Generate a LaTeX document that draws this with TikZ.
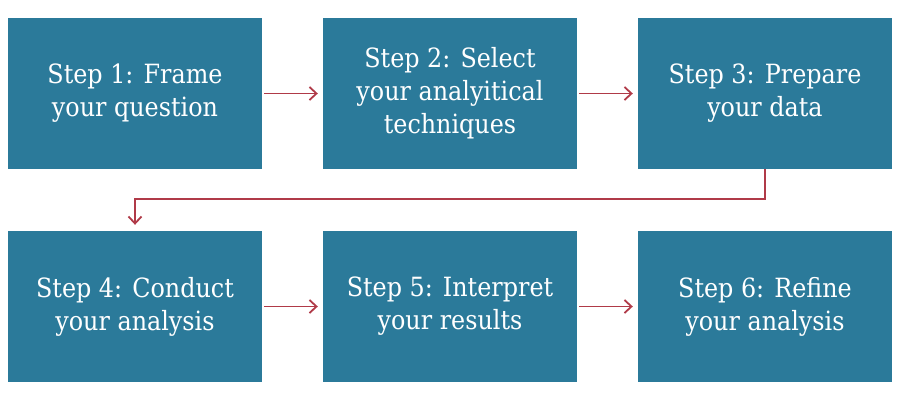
\documentclass[tikz,border=0pt]{standalone}
\usepackage{fontspec}
\setmainfont{DejaVu Serif}[FakeStretch=0.9]
\usetikzlibrary{arrows.meta}
\definecolor{boxblue}{HTML}{2B7A9A}
\definecolor{arrred}{HTML}{B03A48}
\begin{document}
\begin{tikzpicture}[x=1pt,y=-1pt,
  stepbox/.style={fill=boxblue, draw=none, minimum width=254pt, minimum height=151pt,
    text=white, align=center, font=\fontsize{26.5}{33}\selectfont, inner sep=0pt},
  link/.style={draw=arrred, line width=1.8pt, -{Straight Barb[length=7pt,width=13pt]}}]
\useasboundingbox (0,0) rectangle (900,400);
\node[stepbox] (s1) at (135,93.5) {Step 1: Frame\\your question};
\node[stepbox] (s2) at (450,93.5) {Step 2: Select\\your analyitical\\techniques};
\node[stepbox] (s3) at (765,93.5) {Step 3: Prepare\\your data};
\node[stepbox] (s4) at (135,306.5) {Step 4: Conduct\\your analysis};
\node[stepbox] (s5) at (450,306.5) {Step 5: Interpret\\your results};
\node[stepbox] (s6) at (765,306.5) {Step 6: Refine\\your analysis};
\coordinate (m) at (0,199);
\draw[link, shorten <=2pt, shorten >=5pt] (s1) -- (s2);
\draw[link, shorten <=2pt, shorten >=5pt] (s2) -- (s3);
\draw[link, shorten <=2pt, shorten >=5pt] (s4) -- (s5);
\draw[link, shorten <=2pt, shorten >=5pt] (s5) -- (s6);
\draw[link, shorten >=6pt] (s3.south) -- (s3.south |- m) -- (s4.north |- m) -- (s4.north);
\end{tikzpicture}
\end{document}
